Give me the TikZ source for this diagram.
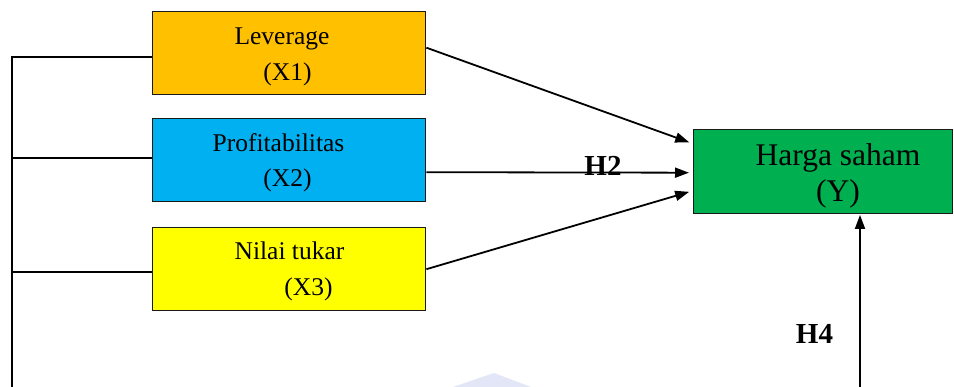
\documentclass[tikz,border=0pt]{standalone}
\usepackage{fontspec}
\setmainfont{Liberation Serif}
\usetikzlibrary{arrows.meta}
\definecolor{cOrange}{HTML}{FFC000}
\definecolor{cBlue}{HTML}{00B0F0}
\definecolor{cYellow}{HTML}{FFFF00}
\definecolor{cGreen}{HTML}{00B050}
\definecolor{cWater}{RGB}{226,230,246}
\tikzset{
  box/.style={draw=black!90, line width=1.4pt, rectangle, anchor=north west, inner sep=0pt},
  xbox/.style={box, minimum width=273pt, minimum height=83pt},
  lbl/.style={inner sep=0pt, anchor=base, font=\fontsize{25.5}{30}\selectfont},
  ylbl/.style={inner sep=0pt, anchor=base, font=\fontsize{31.5}{36}\selectfont},
  hlbl/.style={inner sep=0pt, anchor=base, font=\fontsize{29}{34}\selectfont\bfseries},
  conn/.style={line width=1.8pt, black},
  arr/.style={conn, -{Triangle[length=14pt,width=10pt]}},
}
\begin{document}
\begin{tikzpicture}[x=1pt,y=-1pt]
\useasboundingbox (0,0) rectangle (954,387);
% faint watermark
\fill[cWater] (453,387) -- (494,373) -- (531,387) -- cycle;
% boxes
\node[xbox, fill=cOrange] (x1) at (152,11) {};
\node[xbox, fill=cBlue] (x2) at (152,118) {};
\node[xbox, fill=cYellow] (x3) at (152,227) {};
\node[box, fill=cGreen, minimum width=259pt, minimum height=84pt] (y) at (693,129) {};
% labels
\node[lbl] (t1a) at (282,45) {Leverage};
\node[lbl] (t1b) at (287.5,80.5) {(X1)};
\node[lbl] (t2a) at (278.5,152) {Profitabilitas};
\node[lbl] (t2b) at (287.5,187) {(X2)};
\node[lbl] (t3a) at (289.5,260) {Nilai tukar};
\node[lbl] (t3b) at (308.5,296) {(X3)};
\node[ylbl] (tya) at (838,166) {Harga saham};
\node[ylbl] (tyb) at (838,202) {(Y)};
% left bus
\coordinate (bot) at (12,387);
\draw[conn] ([yshift=-3.5pt]x1.west) -| (bot);
\draw[conn] ([yshift=2.5pt]x2.west) -- ([yshift=2.5pt]x2.west -| bot);
\draw[conn] ([yshift=-2.5pt]x3.west) -- ([yshift=-2.5pt]x3.west -| bot);
% arrows into Y
\draw[arr, shorten >=4pt] ([yshift=5.5pt]x1.east) -- ([yshift=28pt]y.west);
\draw[arr, shorten >=4pt] ([yshift=-12pt]x2.east) -- ([yshift=-1pt]y.west);
\draw[arr, shorten >=4pt] (x3.east) -- ([yshift=-19pt]y.west);
% H4 arrow
\coordinate (h4s) at (860,387);
\draw[arr, shorten >=0.5pt] (h4s) -- (h4s |- y.south);
% hypothesis labels
\node[hlbl] (h2) at (603,176) {H2};
\node[hlbl] (h4) at (814.5,344) {H4};
\end{tikzpicture}
\end{document}
